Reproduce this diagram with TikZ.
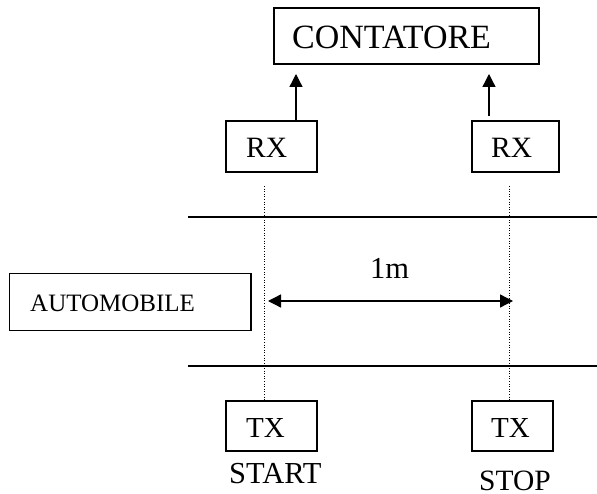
\documentclass[tikz,border=0pt]{standalone}
\usepackage{fontspec}
\setmainfont{Liberation Serif}
\usetikzlibrary{arrows.meta}
\begin{document}
\begin{tikzpicture}[x=1pt,y=-1pt,
  box/.style={draw, line width=1.2pt, inner sep=0pt, minimum height=51pt},
  txt/.style={anchor=base west, inner sep=0pt, text depth=0pt},
  arr/.style={line width=1.3pt, -{Triangle[length=13pt,width=13pt]}},
  darr/.style={line width=1.3pt, {Triangle[length=13pt,width=13pt]}-{Triangle[length=13pt,width=13pt]}},
  dots/.style={line width=1pt, dash pattern=on 1pt off 1.6pt},
  road/.style={line width=1.5pt}]
\useasboundingbox (0,0) rectangle (597,494);
% boxes
\node[box, minimum width=265pt, minimum height=56pt] (cont) at (406.5,36) {};
\node[box, minimum width=91pt] (rxl) at (271.5,146.5) {};
\node[box, minimum width=87pt] (rxr) at (515.5,146.5) {};
\node[box, minimum width=91pt, minimum height=50pt] (txl) at (271.5,426) {};
\node[box, minimum width=81pt, minimum height=50pt] (txr) at (512.5,426) {};
\node[box, minimum width=241.5pt, minimum height=57pt] (auto) at (130.25,302) {};
% texts
\node[txt, font=\fontsize{34}{36}\selectfont] (tcont) at (292,48.5) {CONTATORE};
\node[txt, font=\fontsize{29.5}{31}\selectfont] (trxl) at (246,158) {RX};
\node[txt, font=\fontsize{29.5}{31}\selectfont] (trxr) at (491,158) {RX};
\node[txt, font=\fontsize{25}{27}\selectfont] (tauto) at (30,311.2) {AUTOMOBILE};
\node[txt, font=\fontsize{30.5}{32}\selectfont] (tm) at (370,279) {1m};
\node[txt, font=\fontsize{29}{31}\selectfont] (ttxl) at (246,437) {TX};
\node[txt, font=\fontsize{29}{31}\selectfont] (ttxr) at (491,437.5) {TX};
\node[txt, font=\fontsize{30.5}{32}\selectfont] (tstart) at (229,483) {START};
\node[txt, font=\fontsize{29.5}{31}\selectfont] (tstop) at (479,490.5) {STOP};
% arrows to counter
\coordinate (t1) at (296,74);
\coordinate (t2) at (489,74);
\coordinate (s2) at (489,116);
\draw[arr] (rxl.north -| t1) -- (t1);
\draw[arr] (s2) -- (t2);
% dotted lines
\coordinate (d1) at (264,186);
\coordinate (d2) at (509,186);
\draw[dots] (d1) -- (txl.north -| d1);
\draw[dots] (d2) -- (txr.north -| d2);
% road
\coordinate (r1a) at (188,217);
\coordinate (r1b) at (597,217);
\coordinate (r2a) at (188,366);
\coordinate (r2b) at (597,366);
\draw[road] (r1a) -- (r1b);
\draw[road] (r2a) -- (r2b);
% distance
\coordinate (m1) at (268,301);
\coordinate (m2) at (513,301);
\draw[darr] (m1) -- (m2);
\end{tikzpicture}
\end{document}
